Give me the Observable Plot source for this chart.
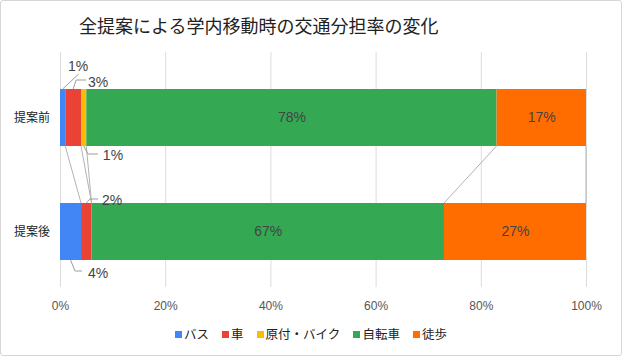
<!DOCTYPE html>
<html><head><meta charset="utf-8">
<script src="https://cdn.jsdelivr.net/npm/d3@7"></script>
<script src="https://cdn.jsdelivr.net/npm/@observablehq/plot@0.6"></script>
<style>
html,body{margin:0;padding:0;background:#fff;}
#wrap{position:relative;width:622px;height:356px;overflow:hidden;background:#fff;font-family:"Liberation Sans",Arial,"Noto Sans CJK JP",sans-serif;}
#frame{position:absolute;left:0;top:0;width:620px;height:354px;border:1px solid #d6d6d6;border-radius:3px;pointer-events:none;}
#title{position:absolute;left:79px;top:14px;font-size:18px;line-height:22px;color:#222;font-family:"Noto Sans CJK JP",sans-serif;white-space:nowrap;}
#chart{position:absolute;left:0;top:45px;}
#legend{position:absolute;left:0;width:622px;top:326px;height:16px;display:flex;justify-content:center;align-items:center;font-size:12.5px;line-height:16px;color:#222;font-family:"Noto Sans CJK JP",sans-serif;}
.item{display:flex;align-items:center;margin:0 6.5px;}
.sw{width:7px;height:7px;margin-right:2px;}
</style></head>
<body>
<div id="wrap">
  <div id="title"></div>
  <div id="chart"></div>
  <div id="legend"></div>
  <div id="frame"></div>
</div>
<script>
const title = "全提案による学内移動時の交通分担率の変化";
const categories = ["提案前", "提案後"];
const modes = ["バス", "車", "原付・バイク", "自転車", "徒歩"];
const before = [1, 3, 1, 78, 17];
const after = [4, 2, 0, 67, 27];
const colors = ["#4285f4", "#ea4335", "#fbbc04", "#34a853", "#ff6d01"];
const xTicks = [0, 20, 40, 60, 80, 100];

// stacked table built from the arrays
const seriesByCat = [before, after];
const rows = categories.flatMap((cat, i) => {
  let acc = 0;
  return modes.map((mode, j) => {
    const v = seriesByCat[i][j];
    const r = {cat, mode, value: v, x1: acc, x2: acc + v};
    acc += v;
    return r;
  });
});

// leader-line styling for small segments (pixel offsets from segment edge)
const leaderStyle = {
  "提案前|バス": {side: -1, pts: [[16, -15]], label: [15.5, -23]},
  "提案前|車": {side: -1, pts: [[3, -9], [13, -9]], label: [25, -7.3]},
  "提案前|原付・バイク": {side: 1, pts: [[4.3, 8], [14.3, 8]], label: [29.3, 9]},
  "提案後|車": {side: -1, pts: [[3.7, -4], [11.7, -4]], label: [25.7, -3]},
  "提案後|バス": {side: 1, pts: [[4.5, 11], [11.5, 11]], label: [27.5, 13]}
};

function bandOf(scales) {
  const y = scales.y;
  const bw = typeof y.bandwidth === "function" ? y.bandwidth() : (scales.scales && scales.scales.y && scales.scales.y.bandwidth) || 57;
  return {y, bw};
}

function connectors(index, scales) {
  const x = scales.x;
  const {y, bw} = bandOf(scales);
  const g = d3.create("svg:g").attr("stroke", "#b3b3b3").attr("stroke-width", 1).attr("fill", "none");
  modes.forEach(m => {
    const b = rows.find(r => r.cat === categories[0] && r.mode === m);
    const a = rows.find(r => r.cat === categories[1] && r.mode === m);
    g.append("line")
      .attr("x1", x(b.x2)).attr("y1", y(categories[0]) + bw)
      .attr("x2", x(a.x2)).attr("y2", y(categories[1]));
  });
  return g.node();
}

function leaders(index, scales) {
  const x = scales.x;
  const {y, bw} = bandOf(scales);
  const g = d3.create("svg:g");
  rows.forEach(r => {
    const s = leaderStyle[r.cat + "|" + r.mode];
    if (!s || r.value <= 0) return;
    const ax = x((r.x1 + r.x2) / 2);
    const ay = s.side < 0 ? y(r.cat) : y(r.cat) + bw;
    const pts = [[ax, ay], ...s.pts.map(([dx, dy]) => [ax + dx, ay + dy])];
    g.append("path").attr("d", d3.line()(pts)).attr("fill", "none").attr("stroke", "#9e9e9e").attr("stroke-width", 1);
    g.append("text")
      .attr("x", ax + s.label[0]).attr("y", ay + s.label[1])
      .attr("dy", "0.35em").attr("text-anchor", "middle")
      .attr("font-size", 14).attr("fill", "#444")
      .text(r.value + "%");
  });
  return g.node();
}

const chart = Plot.plot({
  width: 622,
  height: 270,
  marginLeft: 60,
  marginRight: 36,
  marginTop: 7,
  marginBottom: 28,
  style: {fontFamily: '"Liberation Sans", Arial, "Noto Sans CJK JP", sans-serif', fontSize: "12px", background: "transparent", overflow: "visible"},
  x: {domain: [0, 100], label: null},
  y: {domain: categories, range: [43, 215], paddingInner: 0.504, paddingOuter: 0, label: null},
  color: {domain: modes, range: colors},
  marks: [
    Plot.ruleX(xTicks, {stroke: "#dcdcdc", strokeWidth: 1}),
    connectors,
    Plot.barX(rows.filter(d => d.value > 0), {x1: "x1", x2: "x2", y: "cat", fill: "mode", inset: 0}),
    Plot.text(rows.filter(d => d.value >= 10), {x: d => (d.x1 + d.x2) / 2, y: "cat", text: d => d.value + "%", fill: "#444", fontSize: 14}),
    leaders,
    Plot.axisX({ticks: xTicks, tickFormat: d => d + "%", tickSize: 0, tickPadding: 14, color: "#555", fontSize: 12, label: null}),
    Plot.axisY({tickSize: 0, tickPadding: 10.5, color: "#222", fontSize: 12, label: null})
  ]
});
document.getElementById("chart").appendChild(chart);
document.getElementById("title").textContent = title;

const legend = d3.select("#legend");
modes.forEach((m, i) => {
  const it = legend.append("div").attr("class", "item");
  it.append("div").attr("class", "sw").style("background", colors[i]);
  it.append("span").text(m);
});
</script>
</body></html>
